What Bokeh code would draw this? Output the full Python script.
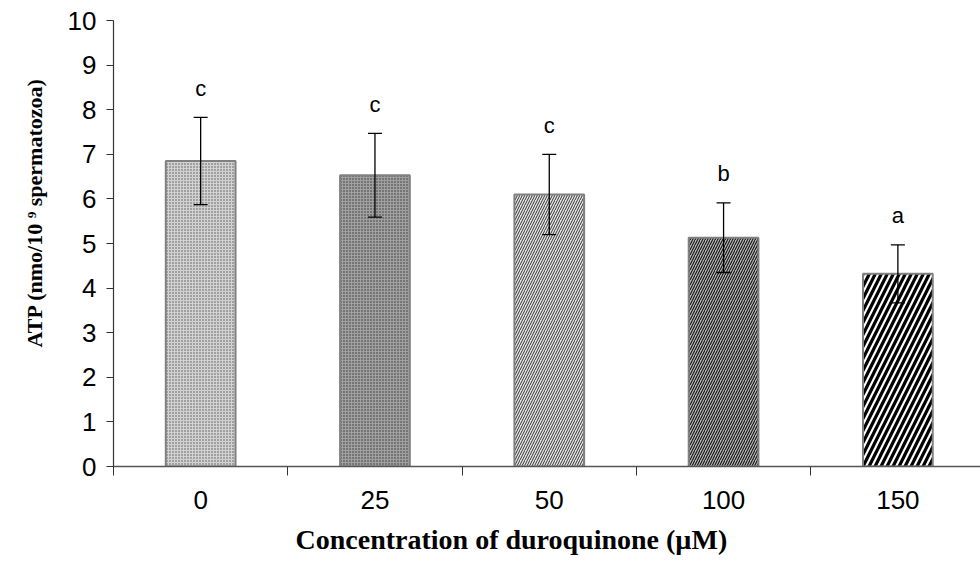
from bokeh.plotting import figure
from bokeh.models import ColumnDataSource, Whisker, Label, FixedTicker, Range1d, TeeHead, Title
from bokeh.embed import file_html
from bokeh.resources import INLINE

# ---- data ----
categories = ["0", "25", "50", "100", "150"]
atp_mean = [6.85, 6.53, 6.10, 5.13, 4.32]
atp_err = [0.98, 0.94, 0.90, 0.78, 0.65]
letters = ["c", "c", "c", "b", "a"]
y_ticks = [0, 1, 2, 3, 4, 5, 6, 7, 8, 9, 10]

# ---- styles ----
fill_colors = ["#d2d2d2", "#a0a0a0", "#e6e6e6", "#b8b8b8", "#ffffff"]
hatch_patterns = ["dot", "dot", "right_diagonal_line", "right_diagonal_line", "right_diagonal_line"]
hatch_scales = [3, 3, 5, 5, 12]
hatch_weights = [0.7, 0.9, 1.0, 1.1, 3.2]
hatch_colors = ["#555555", "#333333", "#333333", "#111111", "#000000"]

xs = list(range(len(categories)))
src = ColumnDataSource(dict(
    x=xs, top=atp_mean,
    upper=[m + e for m, e in zip(atp_mean, atp_err)],
    lower=[m - e for m, e in zip(atp_mean, atp_err)],
    fill=fill_colors, hp=hatch_patterns, hs=hatch_scales, hw=hatch_weights, hc=hatch_colors,
))

p = figure(width=980, height=564, output_backend="svg", toolbar_location=None,
           x_range=Range1d(-0.5, 4.474), y_range=Range1d(0, 10),
           min_border_left=113, min_border_right=0, min_border_top=20, min_border_bottom=97)
p.outline_line_color = None
p.grid.visible = False
p.background_fill_color = "white"

p.vbar(x="x", top="top", width=0.4, bottom=0, source=src,
       fill_color="fill", line_color="#808080", line_width=2,
       hatch_pattern="hp", hatch_scale="hs", hatch_weight="hw", hatch_color="hc")

wh = Whisker(base="x", upper="upper", lower="lower", source=src, level="overlay",
             line_color="black", line_width=1.3,
             upper_head=TeeHead(size=14, line_color="black", line_width=1.3),
             lower_head=TeeHead(size=14, line_color="black", line_width=1.3))
p.add_layout(wh)

for i, (lab, up) in enumerate(zip(letters, src.data["upper"])):
    p.add_layout(Label(x=i, y=up + 0.65, text=lab, text_align="center", text_baseline="middle",
                       text_font="Liberation Sans", text_font_size="22px", text_color="black"))

# x axis
xa = p.xaxis[0]
xa.ticker = FixedTicker(ticks=xs, minor_ticks=[i - 0.5 for i in range(len(categories) + 1)])
xa.major_label_overrides = {i: c for i, c in enumerate(categories)}
xa.major_tick_out = 0
xa.major_tick_in = 0
xa.minor_tick_out = 9
xa.minor_tick_in = 0
xa.minor_tick_line_color = "#333333"
xa.axis_line_color = "#555555"
xa.axis_line_width = 1.5
xa.major_label_text_font = "Liberation Sans"
xa.major_label_text_font_size = "26px"
xa.major_label_text_color = "black"
xa.major_label_standoff = 15

# y axis
ya = p.yaxis[0]
ya.ticker = FixedTicker(ticks=y_ticks)
ya.minor_tick_line_color = None
ya.major_tick_out = 7
ya.major_tick_in = 0
ya.major_tick_line_color = "#333333"
ya.axis_line_color = "#333333"
ya.axis_line_width = 1.2
ya.major_label_text_font = "Liberation Sans"
ya.major_label_text_font_size = "26px"
ya.major_label_text_color = "black"
ya.major_label_standoff = 10

# axis titles
p.add_layout(Title(text="Concentration of duroquinone (µM)", align="left", offset=182,
                   text_font="Liberation Serif", text_font_style="bold",
                   text_font_size="28px", text_color="black", standoff=20), "below")
p.add_layout(Title(text="ATP (nmo/10 \u2079 spermatozoa)", align="left", offset=119,
                   text_font="Liberation Serif", text_font_style="bold",
                   text_font_size="22px", text_color="black", standoff=35), "left")

open("out.html", "w").write(file_html(p, INLINE))
